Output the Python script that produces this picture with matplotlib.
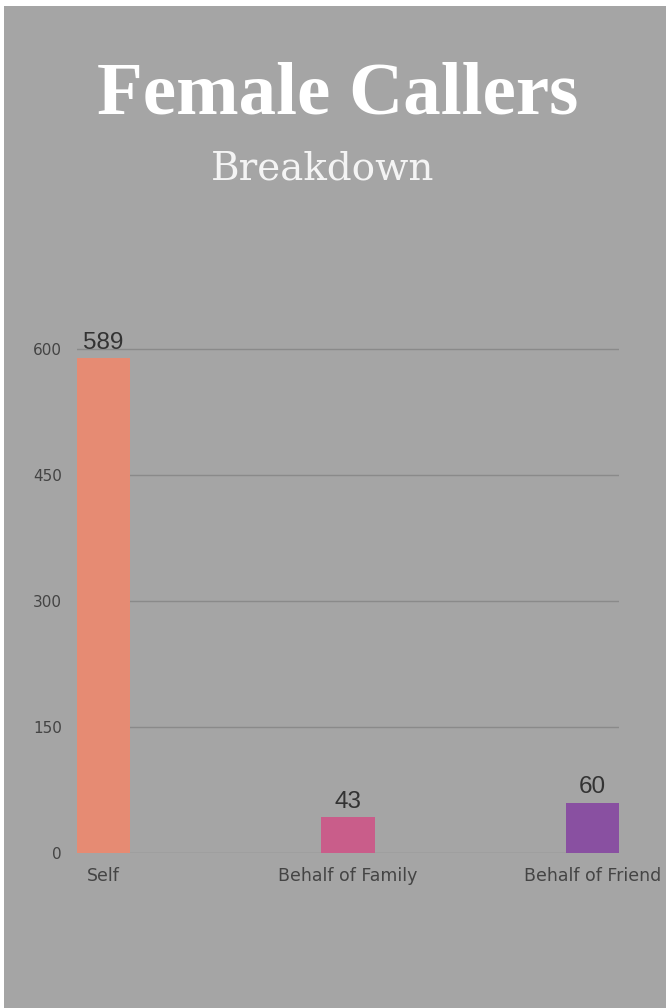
import matplotlib.pyplot as plt
from matplotlib.patches import Rectangle

categories = ['Self', 'Behalf of Family', 'Behalf of Friend']
callers = [589, 43, 60]
bar_colors = ['#e68b73', '#c95d8a', '#8950a1']
yticks = [0, 150, 300, 450, 600]

W, H = 666, 1008
fig = plt.figure(figsize=(W / 100, H / 100), dpi=100, facecolor='white')

# gray card with a thin white margin on the top and left
fig.patches.append(Rectangle((4 / W, 0), 1 - 4 / W, 1 - 6 / H,
                             transform=fig.transFigure, facecolor='#a5a5a5',
                             edgecolor='none', zorder=-5))

fig.text(338 / W, 1 - 96 / H, 'Female Callers', ha='center', va='center',
         family='Liberation Serif', weight='bold', fontsize=54, color='white')
fig.text(323 / W, 1 - 169 / H, 'Breakdown', ha='center', va='center',
         family='DejaVu Serif', fontsize=28, color='#f4f4f4')

# axes: 0 at y=853px, 600 at y=349px
y0_px, y600_px = 853, 349
px_per_unit = (y0_px - y600_px) / 600
ax_bottom = 1 - y0_px / H
ax_height = (y0_px - 300) / H  # extends a bit above the top gridline
ymax = (y0_px - 300) / px_per_unit
ax = fig.add_axes([77 / W, ax_bottom, (619 - 77) / W, ax_height])
ax.set_facecolor('none')

x = range(len(categories))
ax.bar(x, callers, width=0.217, color=bar_colors, zorder=3)
ax.set_xlim(-0.109, 2.109)
ax.set_ylim(0, ymax)

for xi, v in zip(x, callers):
    ax.text(xi, v + 11, str(v), ha='center', va='baseline', fontsize=17.5,
            family='Liberation Sans', color='#333333', zorder=4)

ax.set_yticks(yticks)
ax.set_yticklabels([str(t) for t in yticks], family='DejaVu Sans',
                   fontsize=11, color='#444444')
ax.set_xticks(list(x))
ax.set_xticklabels(categories, family='DejaVu Sans', fontsize=12.5,
                   color='#444444')
ax.tick_params(axis='y', length=0, pad=11)
ax.tick_params(axis='x', length=0, pad=10)

ax.grid(axis='y', color='#8a8a8a', linewidth=1, zorder=1)
for side in ['top', 'right', 'left', 'bottom']:
    ax.spines[side].set_visible(False)

fig.savefig('out.png', dpi=100, facecolor=fig.get_facecolor())
